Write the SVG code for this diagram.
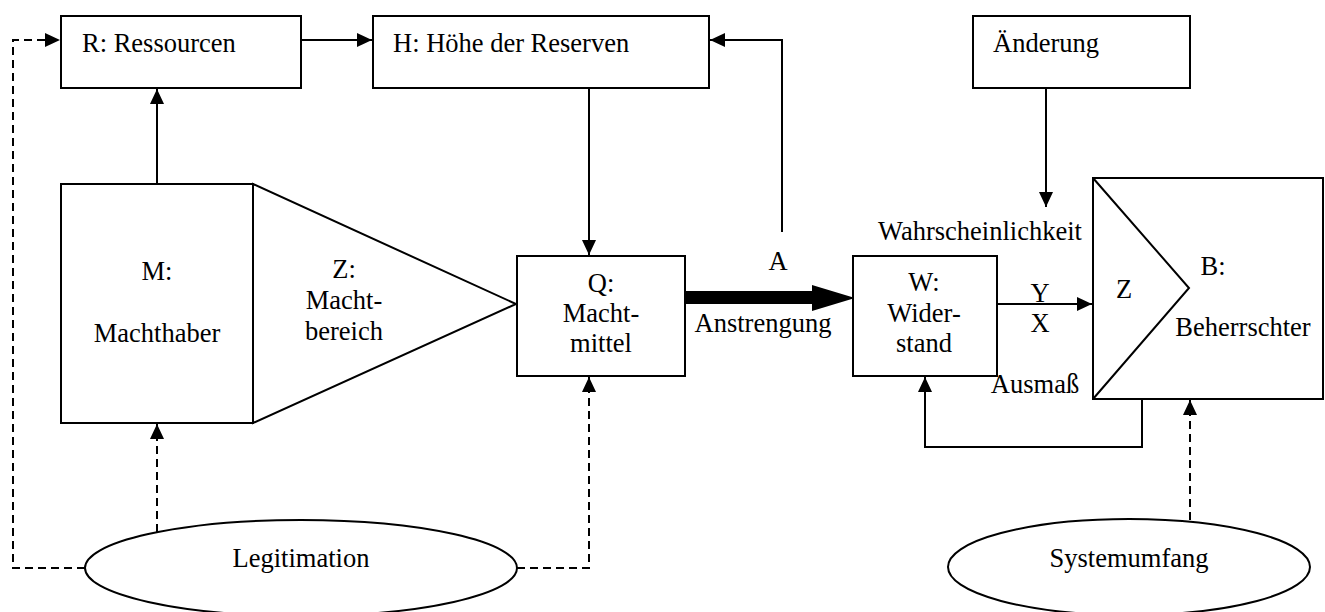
<svg xmlns="http://www.w3.org/2000/svg" width="1325" height="612" viewBox="0 0 1325 612" font-family="'Liberation Serif', 'Times New Roman', Tinos, 'DejaVu Serif', serif">
<style>
.box{fill:#fff;stroke:#000;stroke-width:2}
.ln{fill:none;stroke:#000;stroke-width:2}
.dash{fill:none;stroke:#000;stroke-width:2;stroke-dasharray:8 5}
text{font-family:'Liberation Serif','Times New Roman',Tinos,'DejaVu Serif',serif;font-size:26.5px;fill:#000}
.c{text-anchor:middle}
</style>
<defs>
<marker id="ah" viewBox="0 0 15 14" refX="15" refY="7" markerWidth="15" markerHeight="14" markerUnits="userSpaceOnUse" orient="auto">
<path d="M0,0 L15,7 L0,14 z" fill="#000"/>
</marker>
</defs>
<rect width="1325" height="612" fill="#fff"/>

<g id="connectors">
<path class="dash" d="M85,568 H13 V40 H60" marker-end="url(#ah)"/>
<path class="dash" d="M157,532 V424" marker-end="url(#ah)"/>
<path class="dash" d="M517,568 H589 V377" marker-end="url(#ah)"/>
<path class="dash" d="M1190,520 V400" marker-end="url(#ah)"/>
<path class="ln" d="M157,184 V89" marker-end="url(#ah)"/>
<path class="ln" d="M301,40 H372" marker-end="url(#ah)"/>
<path class="ln" d="M782,232 V40 H710" marker-end="url(#ah)"/>
<path class="ln" d="M589,88 V255" marker-end="url(#ah)"/>
<path class="ln" d="M1046,88 V207" marker-end="url(#ah)"/>
<path class="ln" d="M997,304 H1092" marker-end="url(#ah)"/>
<path class="ln" d="M1142,399 V447 H925 V377" marker-end="url(#ah)"/>
<polygon points="685,291 812,291 812,285 855,298 812,311 812,304 685,304" fill="#000"/>
<text class="c" x="778" y="270">A</text>
<text class="c" x="763" y="332">Anstrengung</text>
<text class="c" x="980" y="240">Wahrscheinlichkeit</text>
<text class="c" x="1040" y="302">Y</text>
<text class="c" x="1040" y="332">X</text>
<text class="c" x="1035" y="393">Ausmaß</text>
</g>

<g id="R">
<rect class="box" x="61" y="16" width="240" height="72"/>
<text x="82" y="52">R: Ressourcen</text>
</g>
<g id="H">
<rect class="box" x="373" y="16" width="336" height="72"/>
<text x="393" y="52">H: Höhe der Reserven</text>
</g>
<g id="Aenderung">
<rect class="box" x="973" y="16" width="217" height="72"/>
<text x="993" y="52">Änderung</text>
</g>
<g id="Z">
<polygon class="box" points="253,184 516,304 253,423"/>
<text class="c" x="344" y="278">Z:</text>
<text class="c" x="344" y="309">Macht-</text>
<text class="c" x="344" y="340">bereich</text>
</g>
<g id="M">
<rect class="box" x="61" y="184" width="192" height="239"/>
<text class="c" x="157" y="280">M:</text>
<text class="c" x="157" y="342">Machthaber</text>
</g>
<g id="Q">
<rect class="box" x="517" y="256" width="168" height="120"/>
<text class="c" x="601" y="292">Q:</text>
<text class="c" x="601" y="322">Macht-</text>
<text class="c" x="601" y="352">mittel</text>
</g>
<g id="W">
<rect class="box" x="853" y="256" width="144" height="120"/>
<text class="c" x="924" y="291">W:</text>
<text class="c" x="924" y="322">Wider-</text>
<text class="c" x="924" y="352">stand</text>
</g>
<g id="B">
<rect class="box" x="1093" y="178" width="230" height="221"/>
<polyline class="ln" points="1093,178 1189,288 1093,399"/>
<text class="c" x="1124" y="298">Z</text>
<text class="c" x="1213" y="275">B:</text>
<text class="c" x="1243" y="336">Beherrschter</text>
</g>
<g id="Legitimation">
<ellipse class="box" cx="301" cy="568" rx="216" ry="48"/>
<text class="c" x="301" y="567">Legitimation</text>
</g>
<g id="Systemumfang">
<ellipse class="box" cx="1129" cy="567" rx="181" ry="48"/>
<text class="c" x="1129" y="567">Systemumfang</text>
</g>
</svg>
